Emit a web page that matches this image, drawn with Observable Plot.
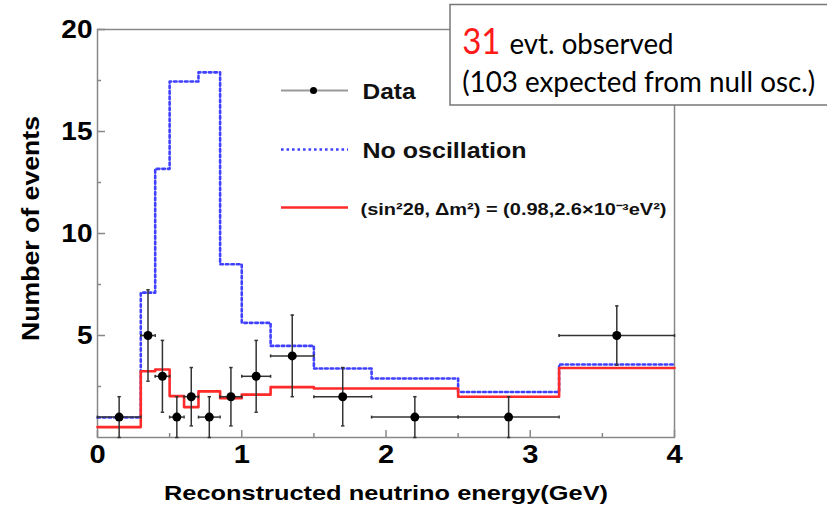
<!DOCTYPE html>
<html><head><meta charset="utf-8">
<script src="https://cdn.jsdelivr.net/npm/d3@7"></script>
<script src="https://cdn.jsdelivr.net/npm/@observablehq/plot@0.6"></script>
<style>body{margin:0;background:#fff;} #chart{width:827px;height:507px;overflow:hidden;position:relative}</style>
</head><body><div id="chart"></div>
<script>
// ---- data ----
const binEdges      = [0, 0.3, 0.4, 0.5, 0.6, 0.7, 0.85, 1.0, 1.2, 1.5, 1.9, 2.5, 3.2, 4.0];
const noOscillation = [0.98, 7.1, 13.17, 17.45, 17.45, 17.9, 8.49, 5.62, 4.49, 3.38, 2.89, 2.23, 3.58];
const bestFit       = [0.51, 3.25, 3.33, 2.03, 1.49, 2.26, 1.93, 2.10, 2.47, 2.40, 2.40, 2.00, 3.41];
const observed      = [1, 5, 3, 1, 2, 1, 2, 3, 4, 2, 1, 1, 5];
const observedErr   = [1, 2.24, 1.76, 1, 1.43, 1, 1.43, 1.76, 2, 1.43, 1, 1, 1.45];
const xTicks = [0, 1, 2, 3, 4];
const xMinorTicks = [0.5, 1.5, 2.5, 3.5];
const yTicks = [5, 10, 15, 20];
const yMinorTicks = [2.5, 7.5, 12.5, 17.5];
const legendLabels = ["Data", "No oscillation", "(sin²2θ, Δm²) = (0.98,2.6×10⁻³eV²)"];
const xTitle = "Reconstructed neutrino energy(GeV)";
const yTitle = "Number of events";
const boxCount = "31";
const boxLine1 = "evt. observed";
const boxLine2 = "(103 expected from null osc.)";

// ---- layout ----
const W = 827, H = 507, mL = 97, mR = 153, mT = 29, mB = 70;
const fw = W - mL - mR, fh = H - mT - mB;
const px2x = p => (p - mL) / fw * 4;
const px2y = p => (H - mB - p) / fh * 20;
const rootFont = "Liberation Sans, Arial, Helvetica, sans-serif";
const boxFont = "Lato, Carlito, Calibri, sans-serif";

const stepOf = vals => binEdges.map((e, i) => ({x: e, y: vals[Math.min(i, vals.length - 1)]}));
const points = observed.map((n, i) => ({
  x: (binEdges[i] + binEdges[i + 1]) / 2, x1: binEdges[i], x2: binEdges[i + 1],
  y: n, y1: n - observedErr[i], y2: n + observedErr[i]
}));

const capH = {draw(ctx, size) { const r = Math.sqrt(size / Math.PI); ctx.moveTo(-r, 0); ctx.lineTo(r, 0); }};
const capV = {draw(ctx, size) { const r = Math.sqrt(size / Math.PI); ctx.moveTo(0, -r); ctx.lineTo(0, r); }};

const blue = "#4040ff", red = "#ff2a2a", errC = "#333", gridC = "#888";
const dots = "2.6,2.9";
const legendRows = [90, 149, 207];
const legendX1 = px2x(281), legendX2 = px2x(348), legendTextX = px2x(362);

const svg = Plot.plot({
  width: W, height: H,
  marginLeft: mL, marginRight: mR, marginTop: mT, marginBottom: mB,
  x: {domain: [0, 4]},
  y: {domain: [0, 20]},
  style: {background: "white", overflow: "visible"},
  marks: [
    Plot.frame({stroke: gridC, strokeWidth: 1.5}),
    Plot.tickY(yTicks, {y: d => d, insetRight: fw - 8, stroke: gridC, strokeWidth: 1.5}),
    Plot.tickY(yMinorTicks, {y: d => d, insetRight: fw - 4, stroke: gridC, strokeWidth: 1.5}),
    Plot.tickX(xTicks, {x: d => d, insetTop: fh - 7, stroke: gridC, strokeWidth: 1.5}),
    Plot.tickX(xMinorTicks, {x: d => d, insetTop: fh - 4, stroke: gridC, strokeWidth: 1.5}),
    Plot.axisY({ticks: yTicks, tickSize: 0, tickPadding: 5, tickFormat: d3.format("d"), label: null, fontSize: 25, fontWeight: "bold", fontFamily: rootFont, color: "#000"}),
    Plot.axisX({ticks: xTicks, tickSize: 0, tickPadding: 7, tickFormat: d3.format("d"), label: null, fontSize: 26, fontWeight: "bold", fontFamily: rootFont, color: "#000"}),
    Plot.text([xTitle], {frameAnchor: "bottom", dy: 62, textAnchor: "middle", lineAnchor: "bottom", fontSize: 21, fontWeight: "bold", fontFamily: rootFont, fill: "#000"}),
    Plot.text([yTitle], {frameAnchor: "left", rotate: -90, dx: -58.5, dy: -5, textAnchor: "middle", lineAnchor: "bottom", fontSize: 23, fontWeight: "bold", fontFamily: rootFont, fill: "#000"}),
    // histograms
    Plot.line(stepOf(noOscillation), {x: "x", y: "y", curve: "step-after", stroke: blue, strokeWidth: 2.6, strokeDasharray: dots}),
    Plot.line(stepOf(bestFit), {x: "x", y: "y", curve: "step-after", stroke: red, strokeWidth: 2.6}),
    // data with error bars
    Plot.ruleY(points, {y: "y", x1: "x1", x2: "x2", stroke: errC, strokeWidth: 1.5}),
    Plot.ruleX(points, {x: "x", y1: "y1", y2: "y2", stroke: errC, strokeWidth: 1.5}),
    Plot.dot(points, {x: "x", y: "y2", symbol: capH, r: 1.7, stroke: errC, strokeWidth: 1.5, fill: "none"}),
    Plot.dot(points, {x: "x", y: "y1", symbol: capH, r: 1.7, stroke: errC, strokeWidth: 1.5, fill: "none"}),
    Plot.dot(points, {x: "x1", y: "y", symbol: capV, r: 1.5, stroke: errC, strokeWidth: 1.5, fill: "none"}),
    Plot.dot(points, {x: "x2", y: "y", symbol: capV, r: 1.5, stroke: errC, strokeWidth: 1.5, fill: "none"}),
    Plot.dot(points, {x: "x", y: "y", r: 4.5, fill: "#000", stroke: "none"}),
    // legend
    Plot.ruleY([legendLabels[0]], {y: px2y(legendRows[0]), x1: legendX1, x2: legendX2, stroke: "#999", strokeWidth: 2}),
    Plot.dot([legendLabels[0]], {x: px2x(313), y: px2y(legendRows[0]), r: 3.5, fill: "#000"}),
    Plot.ruleY([legendLabels[1]], {y: px2y(legendRows[1]), x1: legendX1, x2: legendX2, stroke: blue, strokeWidth: 2.6, strokeDasharray: dots}),
    Plot.ruleY([legendLabels[2]], {y: px2y(legendRows[2]), x1: legendX1, x2: legendX2, stroke: red, strokeWidth: 2.6}),
    Plot.text([legendLabels[0]], {x: legendTextX, y: px2y(98), text: d => d, textAnchor: "start", lineAnchor: "bottom", fontSize: 22, fontWeight: "bold", fontFamily: rootFont, fill: "#111"}),
    Plot.text([legendLabels[1]], {x: legendTextX, y: px2y(157), text: d => d, textAnchor: "start", lineAnchor: "bottom", fontSize: 22, fontWeight: "bold", fontFamily: rootFont, fill: "#111"}),
    Plot.text([legendLabels[2]], {x: px2x(360), y: px2y(214), text: d => d, textAnchor: "start", lineAnchor: "bottom", fontSize: 16, fontWeight: "bold", fontFamily: rootFont, fill: "#111"}),
    // annotation box
    Plot.rect([boxCount], {x1: px2x(450), x2: px2x(845), y1: px2y(105), y2: px2y(4.5), fill: "white", stroke: "#777", strokeWidth: 1.5}),
    Plot.text([boxCount], {frameAnchor: "top-left", dx: 461.7 - mL, dy: 53.3 - mT, textAnchor: "start", lineAnchor: "bottom", fontSize: 37, fontFamily: boxFont, fill: "#ff1a1a"}),
    Plot.text([boxLine1], {frameAnchor: "top-left", dx: 509 - mL, dy: 53.3 - mT, textAnchor: "start", lineAnchor: "bottom", fontSize: 28, fontFamily: boxFont, fill: "#000"}),
    Plot.text([boxLine2], {frameAnchor: "top-left", dx: 461.7 - mL, dy: 91.7 - mT, textAnchor: "start", lineAnchor: "bottom", fontSize: 28, fontFamily: boxFont, fill: "#000"})
  ]
});
document.getElementById("chart").append(svg);

// match the horizontal extents of the text in the reference
const targetWidths = new Map([
  [legendLabels[0], 53], [legendLabels[1], 164], [legendLabels[2], 306],
  [xTitle, 444], [yTitle, 225],
  [boxCount, 38.3], [boxLine1, 164], [boxLine2, 353]
]);
svg.querySelectorAll("text").forEach(t => {
  const s = t.textContent;
  let target = targetWidths.get(s);
  if (target == null && /^\d+$/.test(s)) target = t.getComputedTextLength() * 1.12;
  if (target != null) {
    t.setAttribute("textLength", target);
    t.setAttribute("lengthAdjust", "spacingAndGlyphs");
  }
});
</script>
</body></html>
